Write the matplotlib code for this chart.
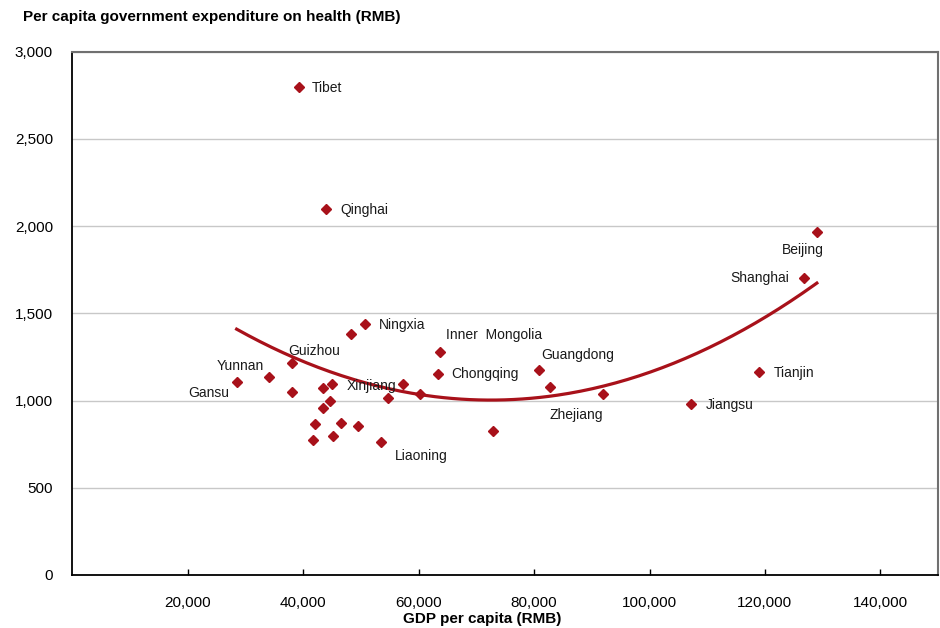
import numpy as np
import matplotlib
matplotlib.use("Agg")
import matplotlib.pyplot as plt

plt.rcParams['font.family'] = ['Liberation Sans', 'DejaVu Sans']

# GDP per capita (RMB) and per capita government health spending (RMB), by province
gdp = [39300, 43900, 129000, 126700, 50700, 48300, 63700, 63350, 80900, 82750,
       92000, 119000, 107200, 72800, 53450, 28450, 34100, 38000, 38000, 43350,
       44900, 44600, 43350, 41950, 41750, 46550, 45200, 49500, 57350, 54750, 60300]
health = [2800, 2100, 1965, 1700, 1440, 1380, 1277, 1153, 1175, 1076,
          1036, 1162, 982, 824, 763, 1105, 1137, 1217, 1049, 1071,
          1095, 999, 956, 866, 774, 870, 799, 854, 1093, 1017, 1036]
names = ["Tibet", "Qinghai", "Beijing", "Shanghai", "Ningxia", "", "Inner  Mongolia",
         "Chongqing", "Guangdong", "", "Zhejiang", "Tianjin", "Jiangsu", "", "Liaoning",
         "Gansu", "Yunnan", "Guizhou", "", "", "Xinjiang", "", "", "", "", "", "", "",
         "", "", ""]

# label placement: (dx px, dy px, horizontal alignment)
label_pos = {
    "Tibet": (13, -1, "left"), "Qinghai": (15, -1, "left"),
    "Beijing": (7, -18, "right"), "Shanghai": (-14, 0, "right"),
    "Ningxia": (14, -1, "left"), "Inner  Mongolia": (6, 17, "left"),
    "Chongqing": (13, 0, "left"), "Guangdong": (2, 15, "left"),
    "Zhejiang": (0, -21, "right"), "Tianjin": (15, -1, "left"),
    "Jiangsu": (15, -1, "left"), "Liaoning": (14, -14, "left"),
    "Gansu": (-7, -11, "right"), "Yunnan": (-5, 11, "right"),
    "Guizhou": (-3, 12, "left"), "Xinjiang": (15, -2, "left"),
}

red = "#a8111a"

fig = plt.figure(figsize=(9.4, 6.28), dpi=100)
ax = fig.add_axes([0.0771, 0.0844, 0.9208, 0.8333])

ax.plot(gdp, health, "D", color=red, ms=5.5, zorder=3)

# second order polynomial trend
coef = np.polyfit(gdp, health, 2)
xs = np.linspace(min(gdp), max(gdp), 200)
ax.plot(xs, np.polyval(coef, xs), color=red, lw=2.3, zorder=2)

for x, y, n in zip(gdp, health, names):
    if not n:
        continue
    dx, dy, ha = label_pos[n]
    ax.annotate(n, (x, y), xytext=(dx, dy), textcoords="offset pixels",
                ha=ha, va="center", fontsize=10, color="#1a1a1a")

ax.set_xlim(0, 150000)
ax.set_ylim(0, 3000)
ax.set_xticks(range(20000, 160000, 20000))
ax.set_yticks(range(0, 3500, 500))
ax.xaxis.set_major_formatter(matplotlib.ticker.StrMethodFormatter("{x:,.0f}"))
ax.yaxis.set_major_formatter(matplotlib.ticker.StrMethodFormatter("{x:,.0f}"))
ax.grid(axis="y", color="#c8c8c8", lw=1)
ax.set_axisbelow(True)
ax.tick_params(axis="x", direction="in", length=4, width=1, pad=15, labelsize=11)
ax.tick_params(axis="y", length=0, pad=14, labelsize=11)

for s in ["left", "bottom"]:
    ax.spines[s].set_color("black")
    ax.spines[s].set_linewidth(1.3)
for s in ["top", "right"]:
    ax.spines[s].set_color("#707070")
    ax.spines[s].set_linewidth(1.5)

ax.set_xlabel("GDP per capita (RMB)", fontsize=11, fontweight="bold", labelpad=1)
ax.xaxis.set_label_coords(0.473, -0.07)
fig.text(0.024, 0.973, "Per capita government expenditure on health (RMB)",
         fontsize=11, fontweight="bold", va="center", ha="left")

fig.savefig("out.png", dpi=100)
